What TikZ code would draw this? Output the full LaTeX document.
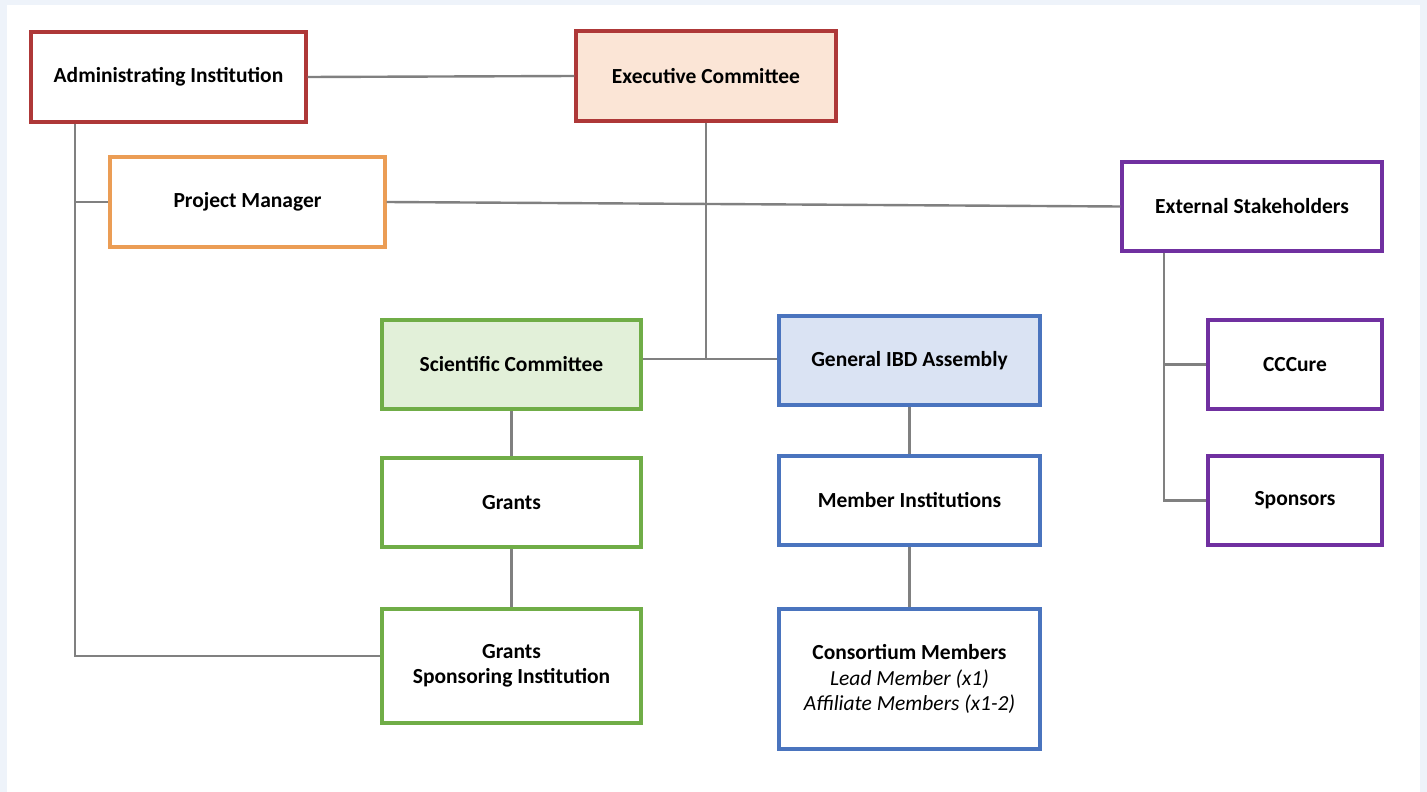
\documentclass[tikz,border=0pt]{standalone}
\usepackage{fontspec}
\setmainfont{Carlito}
\definecolor{bgblue}{HTML}{EEF3FA}
\definecolor{cred}{HTML}{AE3838}
\definecolor{cpeach}{HTML}{FBE5D6}
\definecolor{corange}{HTML}{EB9D55}
\definecolor{cpurple}{HTML}{7030A0}
\definecolor{cgreen}{HTML}{70AD47}
\definecolor{cgreenf}{HTML}{E2F0D9}
\definecolor{cblue}{HTML}{4A74BE}
\definecolor{cbluef}{HTML}{DAE3F3}
\definecolor{cline}{HTML}{808080}
\tikzset{
  box/.style={draw=#1, line width=3.2pt, rectangle, fill=white, align=center,
    font=\fontsize{21.5}{25.5}\selectfont\bfseries, inner sep=2pt},
  conn/.style={draw=cline, line width=2.4pt}
}
\begin{document}
\begin{tikzpicture}[x=1pt,y=-1pt]
\useasboundingbox (0,0) rectangle (1427,792);
\fill[bgblue] (0,0) rectangle (1427,792);
\fill[white] (7,5) rectangle (1420,792);

\node[box=cred, minimum width=275pt, minimum height=90pt] (admin) at (168.5,77) {Administrating Institution};
\node[box=cred, fill=cpeach, minimum width=260pt, minimum height=90pt] (exec) at (706,76) {Executive Committee};
\node[box=corange, minimum width=275pt, minimum height=90pt] (pm) at (247.5,202) {Project Manager};
\node[box=cpurple, minimum width=260pt, minimum height=89pt] (ext) at (1252,206.5) {External Stakeholders};
\node[box=cgreen, fill=cgreenf, minimum width=259pt, minimum height=89pt] (sci) at (511.5,364.5) {Scientific Committee};
\node[box=cblue, fill=cbluef, minimum width=261pt, minimum height=89pt] (gibd) at (909.5,360.5) {General IBD Assembly};
\node[box=cgreen, minimum width=259pt, minimum height=89pt] (grants) at (511.5,502.5) {Grants};
\node[box=cblue, minimum width=261pt, minimum height=89pt] (mi) at (909.5,500.5) {Member Institutions};
\node[box=cgreen, minimum width=259pt, minimum height=114pt] (gsi) at (511.5,666) {Grants\\Sponsoring Institution};
\node[box=cblue, minimum width=261pt, minimum height=140pt] (cm) at (909.5,679) {Consortium Members\\{\mdseries\itshape Lead Member (x1)}\\{\mdseries\itshape Affiliate Members (x1-2)}};
\node[box=cpurple, minimum width=174pt, minimum height=89pt] (cccure) at (1295,364.5) {CCCure};
\node[box=cpurple, minimum width=174pt, minimum height=89pt] (sponsors) at (1295,500.5) {Sponsors};

\coordinate (spine) at (75,656);
\coordinate (espine) at (1164,0);
\coordinate (j1) at (706,359);

\draw[conn] (admin.east) -- (exec.west);
\draw[conn] (exec.south) -- (j1);
\draw[conn] (sci.east |- j1) -- (gibd.west |- j1);
\draw[conn] (admin.south -| spine) -- (spine) -- (gsi.west |- spine);
\draw[conn] (spine |- pm.west) -- (pm.west);
\draw[conn] (pm.east) -- (ext.west);
\draw[conn] (ext.south -| espine) -- (espine |- sponsors.west) -- (sponsors.west);
\draw[conn] (espine |- cccure.west) -- (cccure.west);
\draw[conn] (sci.south) -- (grants.north);
\draw[conn] (grants.south) -- (gsi.north);
\draw[conn] (gibd.south) -- (mi.north);
\draw[conn] (mi.south) -- (cm.north);
\end{tikzpicture}
\end{document}
